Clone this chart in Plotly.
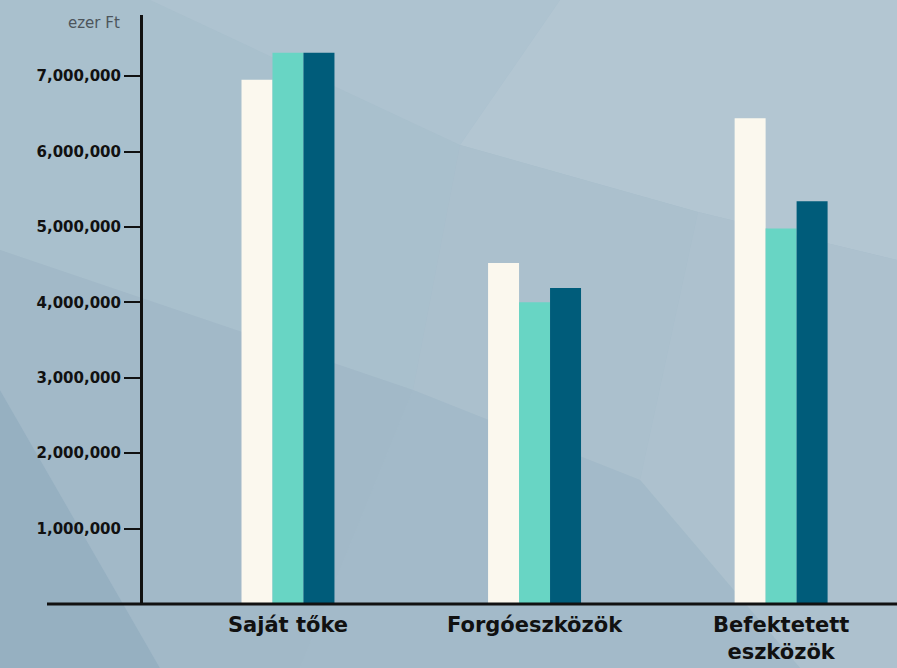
import plotly.graph_objects as go

categories = ["Saját tőke", "Forgóeszközök", "Befektetett<br>eszközök"]
series1 = [6950000, 4520000, 6440000]
series2 = [7310000, 4000000, 4980000]
series3 = [7310000, 4190000, 5340000]
tick_vals = [1000000, 2000000, 3000000, 4000000, 5000000, 6000000, 7000000]

W, H = 897, 668
L, R, T, B = 143, 0, 15, 64
pw, ph = W - L - R, H - T - B

def px(x, y):
    return ((x - L) / pw, (H - B - y) / ph)

def poly(points, color):
    pts = [px(x, y) for x, y in points]
    d = "M " + " L ".join(f"{a:.4f},{b:.4f}" for a, b in pts) + " Z"
    return dict(type="path", xref="paper", yref="paper", path=d,
                fillcolor=color, line=dict(width=0), layer="below")

bg_shapes = [
    poly([(0, 0), (150, 0), (460, 145), (413, 390), (0, 250)], "#a9c0cd"),
    poly([(150, 0), (560, 0), (460, 145)], "#aec3d0"),
    poly([(560, 0), (897, 0), (897, 260), (698, 212), (460, 145)], "#b3c6d2"),
    poly([(460, 145), (698, 212), (640, 480), (413, 390)], "#abc0cd"),
    poly([(698, 212), (897, 260), (897, 668), (800, 668), (640, 480)], "#adc1ce"),
    poly([(413, 390), (640, 480), (800, 668), (300, 668)], "#a3bac9"),
    poly([(0, 250), (413, 390), (300, 668), (160, 668), (0, 390)], "#a2b9c8"),
    poly([(0, 390), (160, 668), (0, 668)], "#96b0c1"),
]

fig = go.Figure()
xs = [0, 1, 2]
for vals, col in [(series1, "#fbf8ee"), (series2, "#68d5c4"), (series3, "#005c7a")]:
    fig.add_trace(go.Bar(x=xs, y=vals, marker=dict(color=col, line=dict(width=0)),
                         showlegend=False, hoverinfo="skip"))

fig.update_layout(
    width=W, height=H,
    margin=dict(l=L, r=R, t=T, b=B, pad=0, autoexpand=False),
    paper_bgcolor="#a7bdcb",
    plot_bgcolor="rgba(0,0,0,0)",
    barmode="group", bargap=0.623, bargroupgap=0,
    shapes=bg_shapes + [
        dict(type="line", xref="paper", yref="paper", x0=(47 - L) / pw, x1=1.0,
             y0=0, y1=0, line=dict(color="#111111", width=3), layer="above"),
    ],
    xaxis=dict(range=[-0.588, 2.47], tickvals=xs, ticktext=categories,
               showgrid=False, zeroline=False, showline=False, ticks="",
               ticklabelstandoff=6, automargin=False,
               tickfont=dict(family="DejaVu Sans", size=21, color="#111111", weight="bold"),
               fixedrange=True),
    yaxis=dict(range=[0, 7810000], tickvals=tick_vals, tickformat=",d",
               showgrid=False, zeroline=False, showline=True, linecolor="#111111",
               linewidth=3, ticks="outside", ticklen=16, tickwidth=2, tickcolor="#111111",
               automargin=False,
               tickfont=dict(family="DejaVu Sans", size=15, color="#111111", weight="bold"),
               fixedrange=True),
    annotations=[
        dict(text="ezer Ft", xref="paper", yref="paper", x=(122 - L) / pw, y=(H - B - 23) / ph,
             xanchor="right", yanchor="middle", showarrow=False,
             font=dict(family="DejaVu Sans", size=15, color="#4d555b")),
    ],
)

fig.write_html("out.html", config={"displayModeBar": False},
               post_script="document.body.style.margin='0';document.body.style.padding='0';")
